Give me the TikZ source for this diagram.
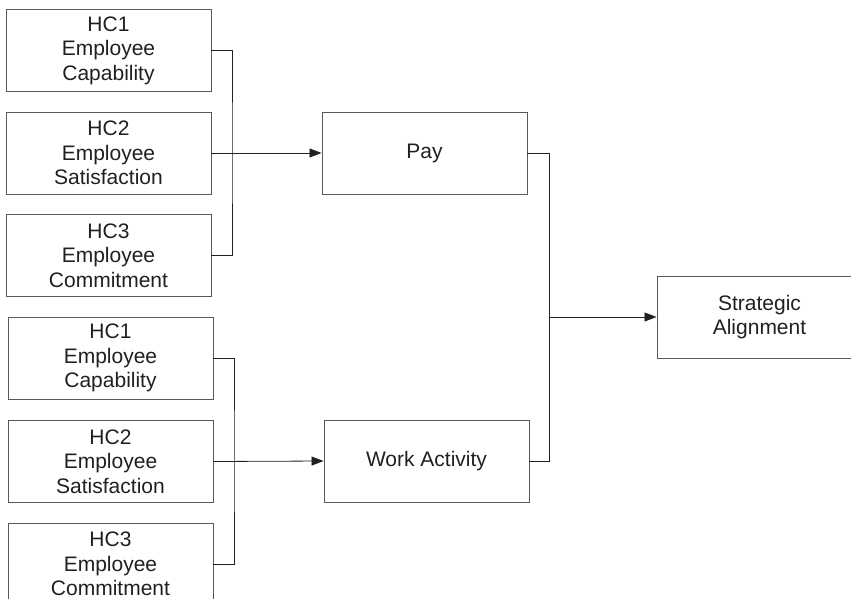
\documentclass[tikz,border=0pt]{standalone}
\usepackage{fontspec}
\setmainfont{Liberation Sans}
\usetikzlibrary{arrows.meta}
\definecolor{ink}{HTML}{231F20}
\tikzset{
  box/.style={draw=black!65, line width=0.9pt, minimum width=205pt, minimum height=82pt, inner sep=0pt, align=center, text=ink, font=\fontsize{21}{24.5}\selectfont},
  conn/.style={draw=ink, line width=0.8pt},
  arr/.style={conn, -{Triangle[length=12pt,width=9pt]}}
}
\begin{document}
\begin{tikzpicture}[x=1pt,y=-1pt]
\useasboundingbox (0,0) rectangle (851,599);
\clip (0,0) rectangle (851,599);
\node[box] (t1) at (108.5,50.5) {HC1\\Employee\\Capability};
\node[box] (t2) at (108.5,153) {HC2\\Employee\\Satisfaction};
\node[box] (t3) at (108.5,255.5) {HC3\\Employee\\Commitment};
\node[box] (b1) at (110.5,358) {HC1\\Employee\\Capability};
\node[box] (b2) at (110.5,461.5) {HC2\\Employee\\Satisfaction};
\node[box] (b3) at (110.5,564) {HC3\\Employee\\Commitment};
\node[box] (pay) at (424.5,153) {Pay};
\node[box] (wa) at (426.5,461) {Work Activity};
\node[box] (sa) at (759.5,317) {Strategic\\Alignment};
\coordinate (tb) at (232,153);
\coordinate (bb) at (234,461);
\coordinate (j) at (549,317);
\draw[conn] (t1.east) -| (tb) |- (t3.east);
\draw[arr] (t2.east) -- (pay.west);
\draw[conn] (b1.east) -| (bb) |- (b3.east);
\draw[arr] (b2.east) -- (wa.west);
\draw[conn] (pay.east) -| (j);
\draw[conn] (wa.east) -| (j);
\draw[arr] (j) -- (sa.west);
\end{tikzpicture}
\end{document}
